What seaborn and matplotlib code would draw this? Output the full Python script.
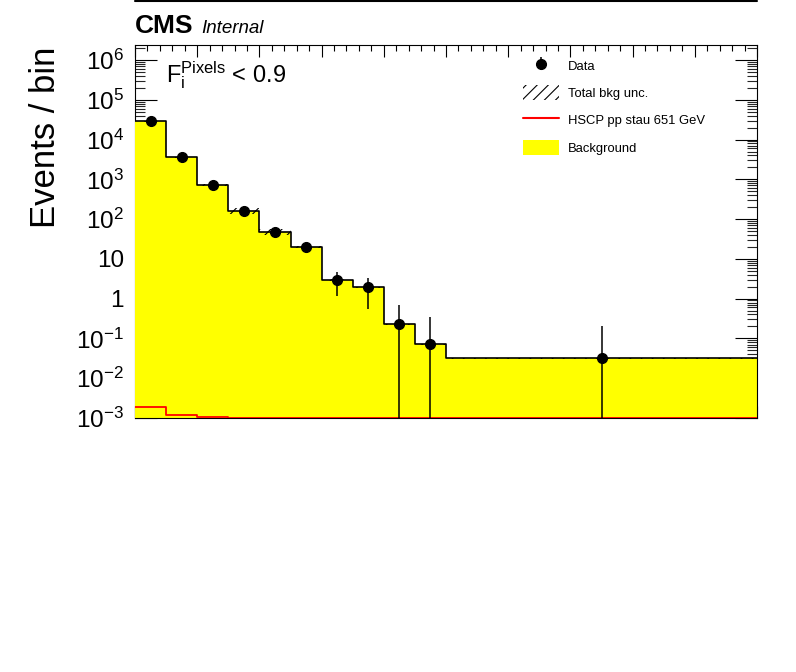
import numpy as np
import pandas as pd
import matplotlib
matplotlib.use("Agg")
import matplotlib.pyplot as plt
import seaborn as sns
from matplotlib.lines import Line2D
from matplotlib.patches import Patch
from matplotlib.ticker import FixedLocator, LogLocator, MultipleLocator, NullFormatter

# binning: ten narrow bins plus one wide bin
bin_edges = [0, 1, 2, 3, 4, 5, 6, 7, 8, 9, 10, 20]

# values (events / bin)
background = [2.9e4, 3.6e3, 710, 162, 48, 19.5, 2.9, 1.92, 0.226, 0.071, 0.0316]
bkg_unc = [600, 120, 40, 25, 7, 1.0, 0.15, 0.1, 0.01, 0.003, 0.0015]
data = [2.9e4, 3.6e3, 700, 160, 48, 19.5, 2.9, 1.92, 0.226, 0.071, 0.0316]
data_up = [2.92e4, 3.65e3, 720, 170, 52, 22, 4.66, 3.3, 0.69, 0.345, 0.205]
data_down = [2.88e4, 3.55e3, 680, 150, 44, 17, 1.16, 0.55, 0.0, 0.0, 0.0]
signal = [1.86e-3, 1.17e-3, 1.04e-3, 1e-3, 1e-3, 1e-3, 1e-3, 1e-3, 1e-3, 1e-3, 1e-3]

ytick_vals = [1e-3, 1e-2, 1e-1, 1, 10, 1e2, 1e3, 1e4, 1e5, 1e6]
ytick_labels = [r"$\mathregular{10^{-3}}$", r"$\mathregular{10^{-2}}$", r"$\mathregular{10^{-1}}$",
                "1", "10", r"$\mathregular{10^{2}}$", r"$\mathregular{10^{3}}$",
                r"$\mathregular{10^{4}}$", r"$\mathregular{10^{5}}$", r"$\mathregular{10^{6}}$"]

sns.set_theme(style="ticks")
plt.rcParams["font.family"] = ["Liberation Sans", "DejaVu Sans"]
plt.rcParams["text.color"] = "black"
plt.rcParams["mathtext.fontset"] = "custom"
plt.rcParams["mathtext.rm"] = "Liberation Sans"
plt.rcParams["mathtext.it"] = "Liberation Sans:italic"
plt.rcParams["mathtext.bf"] = "Liberation Sans:bold"
plt.rcParams["hatch.linewidth"] = 0.8

edges = np.array(bin_edges, dtype=float)
centers = 0.5 * (edges[1:] + edges[:-1])
widths = np.diff(edges)
bkg = np.array(background)
unc = np.array(bkg_unc)
df = pd.DataFrame({"x": centers, "bkg": background, "sig": signal})

W, H = 796, 672
fig = plt.figure(figsize=(W / 100, H / 100), dpi=100)
ax = fig.add_axes([135 / W, 1 - 418 / H, (757 - 135) / W, (418 - 44.5) / H])
ax.set_axisbelow(True)

# background: filled yellow + black outline
sns.histplot(data=df, x="x", weights="bkg", bins=bin_edges, element="step", fill=True,
             color="#ffff00", alpha=1, linewidth=0, ax=ax, zorder=1)
sns.histplot(data=df, x="x", weights="bkg", bins=bin_edges, element="step", fill=False,
             color="black", linewidth=1.2, ax=ax, zorder=2)

# total background uncertainty
ax.bar(centers, 2 * unc, bottom=bkg - unc, width=widths, fill=False,
       hatch="///", linewidth=0, edgecolor="black", zorder=2.2)

# signal
sns.histplot(data=df, x="x", weights="sig", bins=bin_edges, element="step", fill=False,
             color="red", linewidth=1.3, ax=ax, zorder=3)

# data
d = np.array(data)
yerr = [d - np.array(data_down), np.array(data_up) - d]
data_art = ax.errorbar(centers, d, yerr=yerr, fmt="o", color="black", ms=7,
                       elinewidth=1.1, capsize=0, zorder=4)

ax.set_yscale("log")
ax.set_xlim(0, 20)
ax.set_ylim(1e-3, 2.45e6)
ax.set_xlabel("")
ax.set_ylabel("")

ax.yaxis.set_major_locator(FixedLocator(ytick_vals))
ax.set_yticklabels(ytick_labels)
ax.yaxis.set_minor_locator(LogLocator(base=10, subs=np.arange(2, 10), numticks=100))
ax.yaxis.set_minor_formatter(NullFormatter())
ax.xaxis.set_major_locator(MultipleLocator(2))
ax.xaxis.set_minor_locator(MultipleLocator(0.4))
ax.set_xticklabels([])

ax.tick_params(axis="y", which="major", direction="in", length=15.5, width=0.8,
               left=True, right=True, labelsize=17.5, pad=8, colors="black")
ax.tick_params(axis="y", which="minor", direction="in", length=7.5, width=0.8,
               left=True, right=True)
ax.tick_params(axis="x", which="major", direction="in", length=8.5, width=0.8,
               top=True, bottom=True, labelbottom=False, colors="black")
ax.tick_params(axis="x", which="minor", direction="in", length=4.3, width=0.8,
               top=True, bottom=True, colors="black")

for name, sp in ax.spines.items():
    sp.set_color("black")
    sp.set_linewidth(0.8)
ax.spines["left"].set_zorder(0.6)
ax.spines["bottom"].set_zorder(2.5)

# texts
fig.text(135 / W, 1 - 33 / H, "CMS", fontsize=19, fontweight="bold", va="baseline", color="black")
fig.text(201 / W, 1 - 33 / H, "Internal", fontsize=13.5, fontstyle="italic", va="baseline", color="black")
fig.text(166 / W, 1 - 82 / H, r"$\mathregular{F_{i}^{Pixels}}$ < 0.9", fontsize=17, va="baseline")
fig.text(46 / W, 1 - 47 / H, "Events / bin", fontsize=25, rotation=90, ha="center", va="top")

# legend
handles = [data_art,
           Patch(facecolor="none", edgecolor="black", hatch="///", linewidth=0),
           Line2D([], [], color="red", linewidth=1.5),
           Patch(facecolor="#ffff00", edgecolor="none")]
labels = ["Data", "Total bkg unc.", "HSCP pp stau 651 GeV", "Background"]
fig.legend(handles, labels, loc="upper left", bbox_to_anchor=(523 / W, 1 - 58 / H),
           bbox_transform=fig.transFigure, frameon=False, fontsize=9.4,
           handlelength=2.75, handleheight=1.4, handletextpad=0.7,
           labelspacing=0.93, borderpad=0, borderaxespad=0, numpoints=1)

fig.add_artist(Line2D([135 / W, 757 / W], [1 - 1 / H, 1 - 1 / H],
                      transform=fig.transFigure, color="black", linewidth=1.5))

fig.savefig("out.png", dpi=100)
